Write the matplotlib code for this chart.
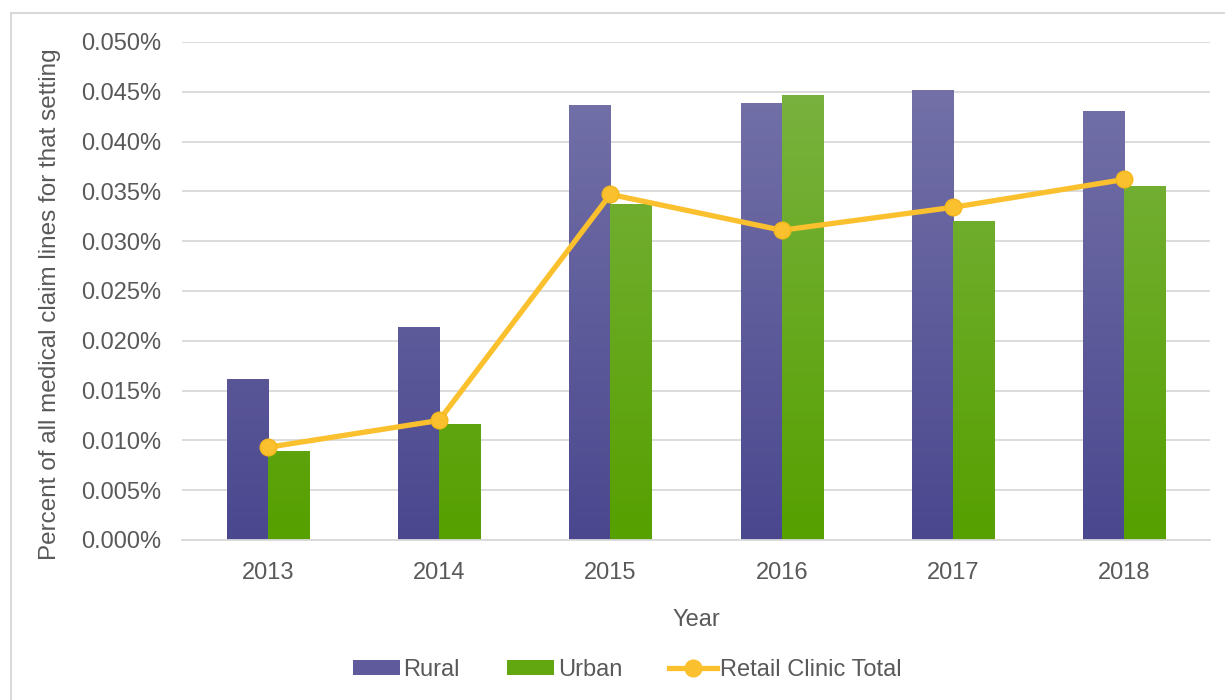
import numpy as np
import matplotlib
matplotlib.use("Agg")
import matplotlib.pyplot as plt
from matplotlib.colors import LinearSegmentedColormap
from matplotlib.patches import Patch
from matplotlib.lines import Line2D

plt.rcParams['font.family'] = ['Liberation Sans', 'DejaVu Sans']

# Dados
anos = ["2013", "2014", "2015", "2016", "2017", "2018"]
rural = [0.0162, 0.0214, 0.0437, 0.0439, 0.0452, 0.0431]
urbano = [0.0089, 0.0116, 0.0337, 0.0447, 0.0320, 0.0355]
total = [0.0093, 0.0120, 0.0347, 0.0311, 0.0334, 0.0362]

cinza = "#595959"
cmap_rural = LinearSegmentedColormap.from_list("r", ["#4b478f", "#7775aa"])
cmap_urbano = LinearSegmentedColormap.from_list("u", ["#56a000", "#7db446"])

fig = plt.figure(figsize=(12.25, 7), dpi=100)
ax = fig.add_axes([0.1486, 0.2286, 0.8392, 0.7114])

x = np.arange(len(anos))
w = 0.24
ymax = 0.05

def barras_gradiente(posicoes, valores, cmap):
    barras = ax.bar(posicoes, valores, w, color="none", zorder=2)
    grad = np.linspace(0, 1, 256).reshape(-1, 1)
    for b in barras:
        x0 = b.get_x()
        img = ax.imshow(grad, cmap=cmap, origin="lower", aspect="auto",
                        extent=[x0, x0 + b.get_width(), 0, ymax], zorder=2)
        img.set_clip_path(b)
    return barras

barras_gradiente(x - w / 2, rural, cmap_rural)
barras_gradiente(x + w / 2, urbano, cmap_urbano)

ax.plot(x, total, color="#fbc02d", lw=3.8, marker="o", markersize=12,
        markerfacecolor="#fbc02d", markeredgecolor="#f5b81c", zorder=4)

ax.set_xlim(-0.5, len(anos) - 0.5)
ax.set_ylim(0, ymax)
ax.set_yticks(np.arange(0, 0.0501, 0.005))
ax.set_yticklabels([f"{v:.3f}%" for v in np.arange(0, 0.0501, 0.005)])
ax.set_xticks(x)
ax.set_xticklabels(anos)
ax.tick_params(length=0, labelsize=17, colors=cinza)
ax.tick_params(axis='x', pad=16)
ax.tick_params(axis='y', pad=15)
ax.grid(axis='y', color="#d9d9d9", lw=1.3, zorder=0)
ax.set_axisbelow(True)
for s in ["top", "right", "left"]:
    ax.spines[s].set_visible(False)
ax.spines["bottom"].set_color("#d9d9d9")
ax.spines["bottom"].set_linewidth(1.3)

ax.set_xlabel("Year", fontsize=17, color=cinza, labelpad=18)
fig.text(0.041, 0.566, "Percent of all medical claim lines for that setting",
         rotation=90, ha="center", va="center", fontsize=17.5, color=cinza)

handles = [Patch(facecolor="#5e5a9c", label="Rural"),
           Patch(facecolor="#62a70f", label="Urban"),
           Line2D([0], [0], color="#fbc02d", lw=3.8, marker="o", markersize=12,
                  label="Retail Clinic Total")]
fig.legend(handles=handles, loc="center", bbox_to_anchor=(0.512, 0.043), ncol=3,
           frameon=False, fontsize=17, labelcolor=cinza, handlelength=2.0,
           handleheight=0.6, handletextpad=0.15, columnspacing=2.0)

# moldura
fig.add_artist(Line2D([11 / 1225, 11 / 1225], [0, 1 - 13 / 700], color="#d9d9d9", lw=1.5))
fig.add_artist(Line2D([11 / 1225, 1], [1 - 13 / 700, 1 - 13 / 700], color="#d9d9d9", lw=1.5))

fig.savefig("out.png", dpi=100)
